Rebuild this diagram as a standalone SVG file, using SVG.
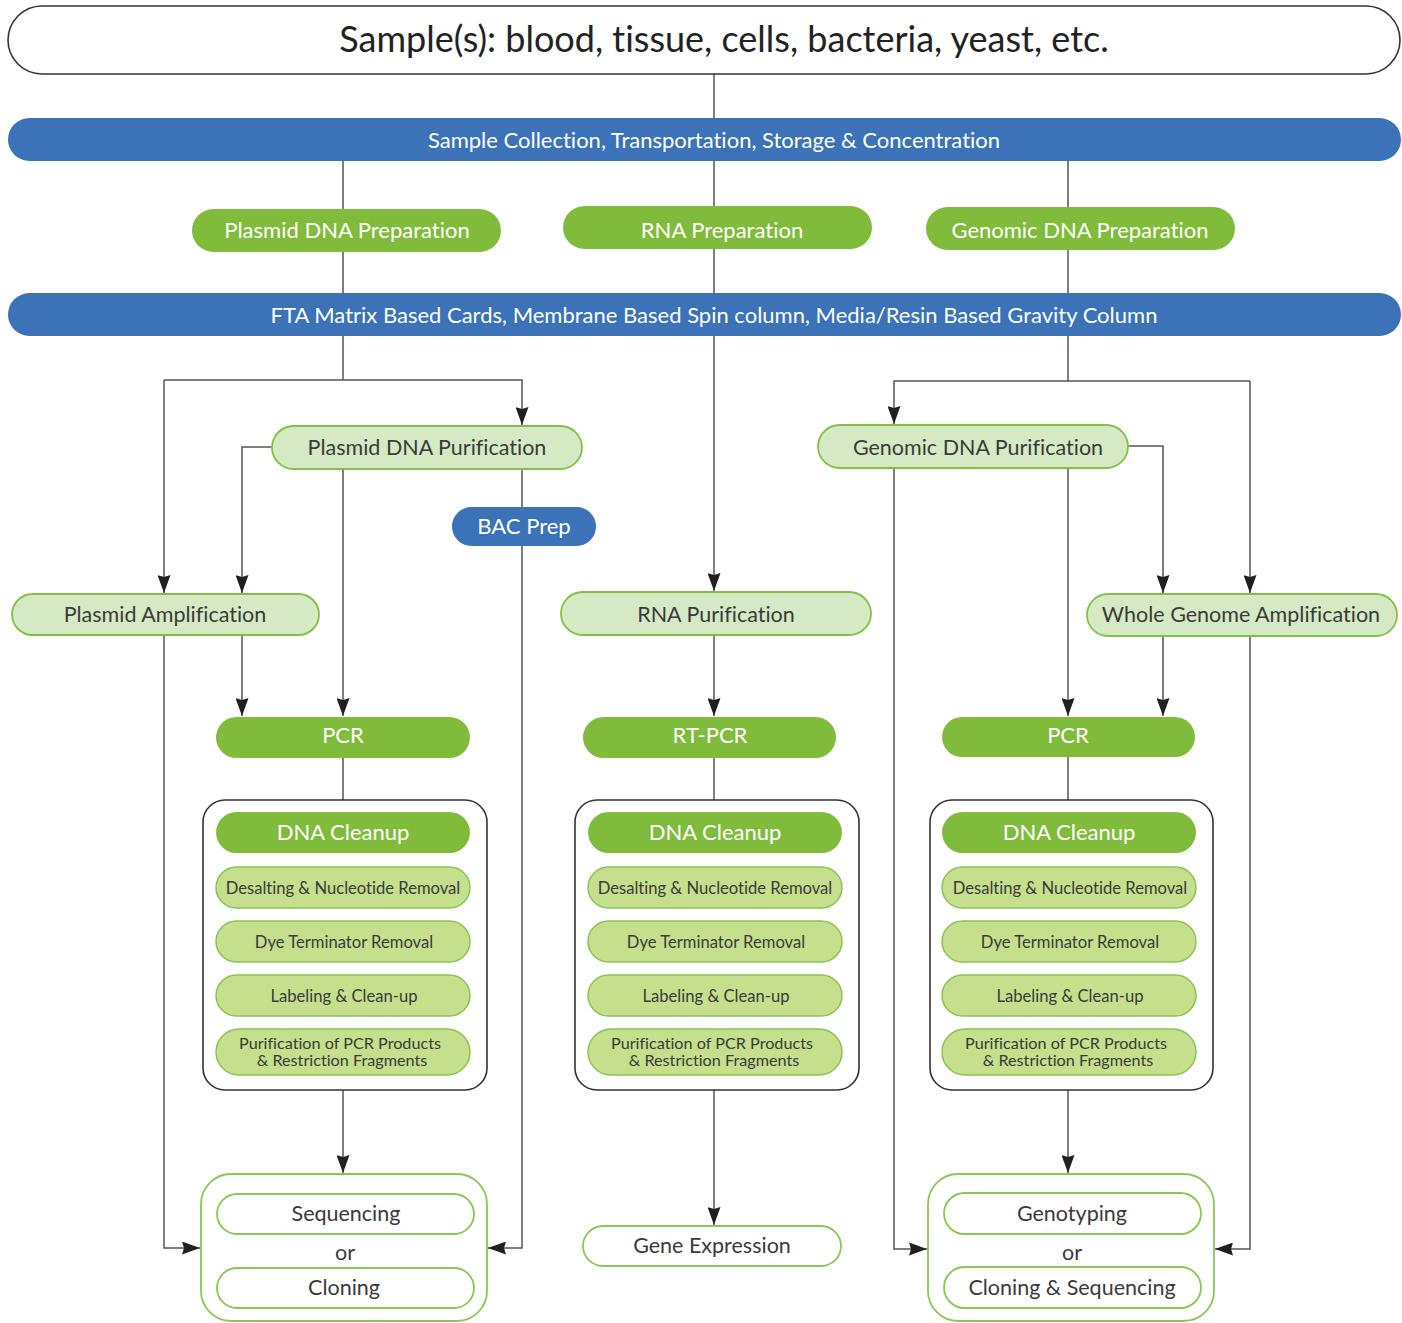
<svg xmlns="http://www.w3.org/2000/svg" width="1402" height="1323" viewBox="0 0 1402 1323">
<defs>
<marker id="ah" markerUnits="userSpaceOnUse" markerWidth="18" markerHeight="13" refX="18" refY="6.5" orient="auto" viewBox="0 0 18 13">
<path d="M0,0 L18,6.5 L0,13 L2,6.5 z" fill="#231f20"/>
</marker>
<style>
text{font-family:Lato,"Open Sans","Liberation Sans",sans-serif;text-anchor:middle;font-weight:400;font-variant-ligatures:none}
.blue{fill:#3b72b8}
.green{fill:#80bb3c}
.lg{fill:#d5eac4;stroke:#84bf46;stroke-width:1.8}
.sub{fill:#c5df8c;stroke:#8cc253;stroke-width:1.5}
.wo{fill:#fff;stroke:#8cc653;stroke-width:1.8}
.box{fill:#fff;stroke:#333;stroke-width:1.6}
.wt{fill:#fff;font-size:22px}
.dk{fill:#3a3a3a;font-size:21.5px}
.st{fill:#3a3a3a;font-size:16.6px}
.pt{fill:#3a3a3a;font-size:16.2px}
.c line,.c polyline{stroke:#555;stroke-width:1.5;fill:none}
.a{marker-end:url(#ah)}
</style>
</defs>
<rect width="1402" height="1323" fill="#fff"/>

<g class="c" id="connectors">
<line x1="714" y1="74" x2="714" y2="118"/>
<line x1="343" y1="161" x2="343" y2="209"/>
<line x1="714" y1="161" x2="714" y2="206"/>
<line x1="1068" y1="161" x2="1068" y2="207"/>
<line x1="343" y1="252" x2="343" y2="293"/>
<line x1="714" y1="249" x2="714" y2="293"/>
<line x1="1068" y1="250" x2="1068" y2="293"/>
<line x1="343" y1="336" x2="343" y2="380"/>
<polyline class="a" points="164,380 522,380 522,425"/>
<line class="a" x1="164" y1="380" x2="164" y2="593"/>
<polyline class="a" points="272,447 242,447 242,593"/>
<line class="a" x1="343" y1="469" x2="343" y2="716"/>
<line x1="522" y1="469" x2="522" y2="507"/>
<polyline class="a" points="522,546 522,1248 488,1248"/>
<line class="a" x1="242" y1="635" x2="242" y2="716"/>
<polyline class="a" points="164,635 164,1248 200,1248"/>
<line x1="343" y1="758" x2="343" y2="800"/>
<line class="a" x1="343" y1="1090" x2="343" y2="1173"/>
<line class="a" x1="714" y1="336" x2="714" y2="591"/>
<line class="a" x1="714" y1="635" x2="714" y2="716"/>
<line x1="714" y1="758" x2="714" y2="800"/>
<line class="a" x1="714" y1="1090" x2="714" y2="1225"/>
<line x1="1068" y1="336" x2="1068" y2="381"/>
<polyline class="a" points="1250,381 894,381 894,424"/>
<polyline class="a" points="1128,446 1163,446 1163,593"/>
<line class="a" x1="1250" y1="381" x2="1250" y2="593"/>
<polyline class="a" points="894,468 894,1249 927,1249"/>
<line class="a" x1="1068" y1="468" x2="1068" y2="716"/>
<line class="a" x1="1163" y1="636" x2="1163" y2="716"/>
<polyline class="a" points="1250,636 1250,1249 1215,1249"/>
<line x1="1068" y1="757" x2="1068" y2="800"/>
<line class="a" x1="1068" y1="1090" x2="1068" y2="1173"/>
</g>

<g id="samples">
<rect x="8" y="6" width="1392" height="68" rx="34" fill="#fff" stroke="#333" stroke-width="1.6"/>
<text x="724" y="52" fill="#222" font-size="36">Sample(s): blood, tissue, cells, bacteria, yeast, etc.</text>
</g>
<g id="collection">
<rect class="blue" x="8" y="118" width="1393" height="43" rx="21.5"/>
<text class="wt" x="714" y="148">Sample Collection, Transportation, Storage &amp; Concentration</text>
</g>
<g id="plasmid-prep">
<rect class="green" x="192" y="209" width="309" height="43" rx="21.5"/>
<text class="wt" x="347" y="238">Plasmid DNA Preparation</text>
</g>
<g id="rna-prep">
<rect class="green" x="563" y="206" width="309" height="43" rx="21.5"/>
<text class="wt" x="722" y="238">RNA Preparation</text>
</g>
<g id="genomic-prep">
<rect class="green" x="926" y="207" width="309" height="43" rx="21.5"/>
<text class="wt" x="1080" y="238">Genomic DNA Preparation</text>
</g>
<g id="fta">
<rect class="blue" x="8" y="293" width="1393" height="43" rx="21.5"/>
<text class="wt" x="714" y="323">FTA Matrix Based Cards, Membrane Based Spin column, Media/Resin Based Gravity Column</text>
</g>

<g id="plasmid-purification">
<rect class="lg" x="272" y="426" width="310" height="43" rx="21.5"/>
<text class="dk" x="427" y="455">Plasmid DNA Purification</text>
</g>
<g id="bac-prep">
<rect class="blue" x="452" y="507" width="144" height="39" rx="19.5"/>
<text class="wt" x="524" y="534">BAC Prep</text>
</g>
<g id="plasmid-amplification">
<rect class="lg" x="12" y="594" width="307" height="41" rx="20.5"/>
<text class="dk" x="165" y="622">Plasmid Amplification</text>
</g>
<g id="pcr-left">
<rect class="green" x="216" y="717" width="254" height="41" rx="20.5"/>
<text class="wt" x="343" y="743" font-size="20.5">PCR</text>
</g>
<g id="cleanup-left">
<rect class="box" x="203" y="800" width="284" height="290" rx="22"/>
<rect class="green" x="216" y="812" width="254" height="41" rx="20.5"/>
<text class="wt" x="343" y="840">DNA Cleanup</text>
<rect class="sub" x="216" y="867" width="254" height="41" rx="20.5"/>
<text class="st" x="343" y="894">Desalting &amp; Nucleotide Removal</text>
<rect class="sub" x="216" y="921" width="254" height="41" rx="20.5"/>
<text class="st" x="344" y="948">Dye Terminator Removal</text>
<rect class="sub" x="216" y="975" width="254" height="41" rx="20.5"/>
<text class="st" x="344" y="1002">Labeling &amp; Clean-up</text>
<rect class="sub" x="216" y="1029" width="254" height="46" rx="23"/>
<text class="pt" x="340" y="1049">Purification of PCR Products</text>
<text class="pt" x="342" y="1066">&amp; Restriction Fragments</text>
</g>
<g id="sequencing-cloning">
<rect class="wo" x="201" y="1174" width="286" height="147" rx="30"/>
<rect class="wo" x="217" y="1194" width="257" height="40" rx="20"/>
<text class="dk" x="346" y="1221">Sequencing</text>
<text class="dk" x="345" y="1260" font-size="20.5">or</text>
<rect class="wo" x="217" y="1268" width="257" height="40" rx="20"/>
<text class="dk" x="344" y="1295">Cloning</text>
</g>

<g id="rna-purification">
<rect class="lg" x="561" y="592" width="310" height="43" rx="21.5"/>
<text class="dk" x="716" y="622">RNA Purification</text>
</g>
<g id="rt-pcr">
<rect class="green" x="583" y="717" width="253" height="41" rx="20.5"/>
<text class="wt" x="710" y="743" font-size="20.5">RT-PCR</text>
</g>
<g id="cleanup-middle">
<rect class="box" x="575" y="800" width="284" height="290" rx="22"/>
<rect class="green" x="588" y="812" width="254" height="41" rx="20.5"/>
<text class="wt" x="715" y="840">DNA Cleanup</text>
<rect class="sub" x="588" y="867" width="254" height="41" rx="20.5"/>
<text class="st" x="715" y="894">Desalting &amp; Nucleotide Removal</text>
<rect class="sub" x="588" y="921" width="254" height="41" rx="20.5"/>
<text class="st" x="716" y="948">Dye Terminator Removal</text>
<rect class="sub" x="588" y="975" width="254" height="41" rx="20.5"/>
<text class="st" x="716" y="1002">Labeling &amp; Clean-up</text>
<rect class="sub" x="588" y="1029" width="254" height="46" rx="23"/>
<text class="pt" x="712" y="1049">Purification of PCR Products</text>
<text class="pt" x="714" y="1066">&amp; Restriction Fragments</text>
</g>
<g id="gene-expression">
<rect class="wo" x="583" y="1226" width="258" height="40" rx="20"/>
<text class="dk" x="712" y="1253">Gene Expression</text>
</g>

<g id="genomic-purification">
<rect class="lg" x="818" y="425" width="310" height="43" rx="21.5"/>
<text class="dk" x="978" y="455">Genomic DNA Purification</text>
</g>
<g id="whole-genome-amplification">
<rect class="lg" x="1087" y="594" width="310" height="42" rx="21"/>
<text class="dk" x="1241" y="622">Whole Genome Amplification</text>
</g>
<g id="pcr-right">
<rect class="green" x="942" y="717" width="253" height="40" rx="20"/>
<text class="wt" x="1068" y="743" font-size="20.5">PCR</text>
</g>
<g id="cleanup-right">
<rect class="box" x="930" y="800" width="283" height="290" rx="22"/>
<rect class="green" x="942" y="812" width="254" height="41" rx="20.5"/>
<text class="wt" x="1069" y="840">DNA Cleanup</text>
<rect class="sub" x="942" y="867" width="254" height="41" rx="20.5"/>
<text class="st" x="1070" y="894">Desalting &amp; Nucleotide Removal</text>
<rect class="sub" x="942" y="921" width="254" height="41" rx="20.5"/>
<text class="st" x="1070" y="948">Dye Terminator Removal</text>
<rect class="sub" x="942" y="975" width="254" height="41" rx="20.5"/>
<text class="st" x="1070" y="1002">Labeling &amp; Clean-up</text>
<rect class="sub" x="942" y="1029" width="254" height="46" rx="23"/>
<text class="pt" x="1066" y="1049">Purification of PCR Products</text>
<text class="pt" x="1068" y="1066">&amp; Restriction Fragments</text>
</g>
<g id="genotyping-cloning">
<rect class="wo" x="928" y="1174" width="286" height="147" rx="30"/>
<rect class="wo" x="944" y="1193" width="257" height="41" rx="20.5"/>
<text class="dk" x="1072" y="1221">Genotyping</text>
<text class="dk" x="1072" y="1260" font-size="20.5">or</text>
<rect class="wo" x="944" y="1267" width="257" height="41" rx="20.5"/>
<text class="dk" x="1072" y="1295">Cloning &amp; Sequencing</text>
</g>
</svg>
